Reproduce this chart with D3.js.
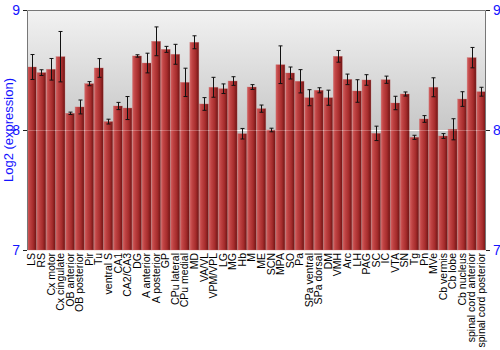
<!DOCTYPE html>
<html><head><meta charset="utf-8">
<script src="https://cdn.jsdelivr.net/npm/d3@7"></script>
<style>body{margin:0;background:#fff}svg{display:block}</style>
</head><body>
<script>
const categories = ["LS","RS","Cx motor","Cx cingulate","OB anterior","OB posterior","Pir","Tu","ventral S","CA1","CA2/CA3","DG","A anterior","A posterior","GP","CPu lateral","CPu medial","MD","VA/VL","VPM/VPL","LG","MG","Hb","M","ME","SCN","MPA","SO","Pa","SPa ventral","SPa dorsal","DM","VMH","Arc","LH","PAG","SC","IC","VTA","SN","Tg","Pn","MVe","Cb vermis","Cb lobe","Cb nucleus","spinal cord anterior","spinal cord posterior"];
const values = [8.525,8.478,8.506,8.611,8.139,8.192,8.386,8.517,8.07,8.2,8.183,8.617,8.558,8.739,8.672,8.631,8.397,8.731,8.217,8.356,8.344,8.408,7.969,8.358,8.178,8.0,8.544,8.475,8.406,8.269,8.331,8.269,8.614,8.422,8.325,8.417,7.972,8.419,8.225,8.3,7.939,8.092,8.356,7.95,8.006,8.258,8.603,8.319];
const errors = [0.104,0.024,0.09,0.21,0.01,0.058,0.017,0.078,0.02,0.03,0.096,0.01,0.082,0.12,0.025,0.083,0.118,0.054,0.053,0.083,0.04,0.036,0.044,0.02,0.03,0.015,0.157,0.05,0.097,0.067,0.021,0.063,0.049,0.044,0.094,0.044,0.06,0.03,0.056,0.017,0.017,0.028,0.079,0.02,0.088,0.061,0.085,0.037];
const yTicks = [7,8,9];

const W=500,H=350, L=27, R=486, T=10, B=250;
const svg=d3.select("body").append("svg").attr("width",W).attr("height",H);
const defs=svg.append("defs");
const bg=defs.append("linearGradient").attr("id","bg").attr("x1",0).attr("y1",0).attr("x2",0).attr("y2",1);
bg.append("stop").attr("offset","0%").attr("stop-color","#f2f2f2");
bg.append("stop").attr("offset","100%").attr("stop-color","#9c9c9c");
const bar=defs.append("linearGradient").attr("id","bar").attr("x1",0).attr("y1",0).attr("x2",1).attr("y2",0);
bar.append("stop").attr("offset","0%").attr("stop-color","#d46262");
bar.append("stop").attr("offset","25%").attr("stop-color","#c04444");
bar.append("stop").attr("offset","65%").attr("stop-color","#a62c2c");
bar.append("stop").attr("offset","100%").attr("stop-color","#6e1414");

const x=d3.scaleBand().domain(categories).range([L,R]).paddingInner(0.06).paddingOuter(0.03);
const y=d3.scaleLinear().domain([7,9]).range([B,T]);

svg.append("rect").attr("x",L).attr("y",T).attr("width",R-L).attr("height",B-T).attr("fill","url(#bg)");

// gridline at 8 (behind bars, strong)
svg.append("line").attr("x1",L).attr("x2",R).attr("y1",y(8)+0.5).attr("y2",y(8)+0.5)
  .attr("stroke","#fff").attr("stroke-width",1);

svg.append("g").selectAll("rect").data(categories).join("rect")
  .attr("x",d=>x(d)).attr("width",x.bandwidth())
  .attr("y",(d,i)=>y(values[i])).attr("height",(d,i)=>y(7)-y(values[i]))
  .attr("fill","url(#bar)").attr("stroke","#c86a6a").attr("stroke-opacity",0.5).attr("stroke-width",0.6);

// faint gridline over bars
svg.append("line").attr("x1",L).attr("x2",R).attr("y1",y(8)+0.5).attr("y2",y(8)+0.5)
  .attr("stroke","#fff").attr("stroke-opacity",0.25).attr("stroke-width",1);

// error bars
const eg=svg.append("g").attr("stroke","#111").attr("stroke-width",1);
categories.forEach((c,i)=>{
  const cx=Math.round(x(c)+x.bandwidth()/2)+0.5;
  const y1=y(values[i]+errors[i]), y2=y(values[i]-errors[i]);
  eg.append("line").attr("x1",cx).attr("x2",cx).attr("y1",y1).attr("y2",y2);
  eg.append("line").attr("x1",cx-2).attr("x2",cx+2).attr("y1",y1).attr("y2",y1);
  eg.append("line").attr("x1",cx-2).attr("x2",cx+2).attr("y1",y2).attr("y2",y2);
});

// frame
svg.append("path").attr("d",`M${L+0.5},${B}V${T+0.5}H${R-0.5}V${B}`).attr("fill","none").attr("stroke","#777");

const yl=svg.append("g").attr("transform",`translate(${L},0)`).call(d3.axisLeft(y).tickValues(yTicks).tickSize(4).tickFormat(d3.format("d")));
const yr=svg.append("g").attr("transform",`translate(${R},0)`).call(d3.axisRight(y).tickValues(yTicks).tickSize(4).tickFormat(d3.format("d")));
[yl,yr].forEach(g=>{g.select(".domain").remove();g.selectAll("line").attr("stroke","#222");
  g.selectAll("text").attr("fill","#1414ff").style("font-family","Liberation Sans, Arial, sans-serif").style("font-size","14px");});

const xa=svg.append("g").attr("transform",`translate(0,${B})`).call(d3.axisBottom(x).tickSize(0));
xa.select(".domain").remove();
xa.selectAll("text").attr("transform","rotate(-90)").attr("x",-3).attr("y",0).attr("dy","0.35em")
  .attr("text-anchor","end").attr("fill","#000").style("font-family","Liberation Sans, Arial, sans-serif").style("font-size","10.5px");

svg.append("text").attr("transform",`translate(13,${(T+B)/2}) rotate(-90)`).attr("text-anchor","middle")
  .attr("fill","#1414ff").style("font-family","Liberation Sans, Arial, sans-serif").style("font-size","13px").text("Log2 (expression)");
</script>
</body></html>
